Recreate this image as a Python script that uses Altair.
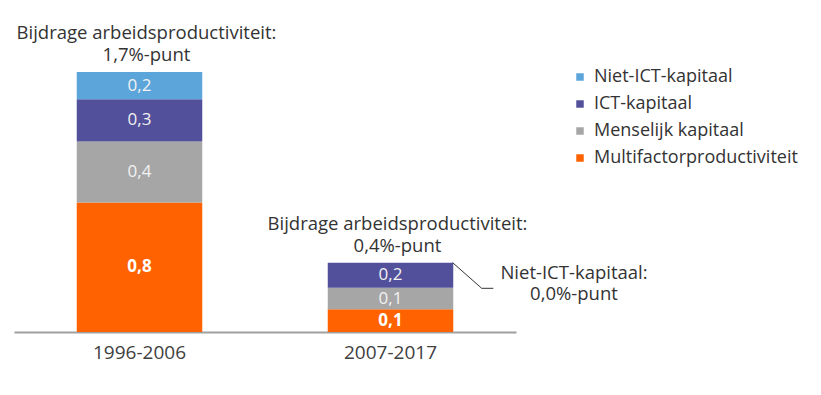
import altair as alt
import pandas as pd

# ---- data ----
periods = ["1996-2006", "2007-2017"]
components = ["Niet-ICT-kapitaal", "ICT-kapitaal", "Menselijk kapitaal", "Multifactorproductiviteit"]
colors = ["#5ca5da", "#52509a", "#a6a6a6", "#ff6200"]
niet_ict = [0.177, 0.0]
ict = [0.277, 0.164]
menselijk = [0.399, 0.141]
mfp = [0.846, 0.148]
reported_totals = [1.7, 0.4]
title_line = "Bijdrage arbeidsproductiviteit:"
note_lines = ["Niet-ICT-kapitaal:", "0,0%-punt"]

FONT = "Open Sans"
TXT = "#333333"
TS = 18.5

series = {
    "Multifactorproductiviteit": mfp,
    "Menselijk kapitaal": menselijk,
    "ICT-kapitaal": ict,
    "Niet-ICT-kapitaal": niet_ict,
}
stack_rank = {c: i for i, c in enumerate(series)}

rows = []
for i, p in enumerate(periods):
    for c, vals in series.items():
        v = vals[i]
        rows.append({
            "period": p,
            "component": c,
            "value": v,
            "rank": stack_rank[c],
            "label": f"{v:.1f}".replace(".", ","),
        })
df = pd.DataFrame(rows)

tot_rows = []
for i, p in enumerate(periods):
    top = sum(vals[i] for vals in series.values())
    tot_rows.append({
        "period": p,
        "top": top,
        "line1": title_line,
        "line2": f"{reported_totals[i]:.1f}".replace(".", ",") + "%-punt",
    })
df_tot = pd.DataFrame(tot_rows)

bar2_top = tot_rows[1]["top"]

W, H = 502, 306
xscale = alt.Scale(domain=periods, paddingInner=0.5, paddingOuter=0.25)
yscale = alt.Scale(domain=[0, 2.0])

base = alt.Chart(df)

bars = base.mark_bar().encode(
    x=alt.X("period:N", scale=xscale, sort=periods,
            axis=alt.Axis(title=None, labelAngle=0, ticks=False, domainColor="#a0a0a0",
                          domainWidth=2, labelFontSize=19, labelColor="#404040",
                          labelPadding=11, labelFont=FONT, grid=False)),
    y=alt.Y("value:Q", stack="zero", scale=yscale, axis=None),
    color=alt.Color("component:N", scale=alt.Scale(domain=components, range=colors),
                    legend=alt.Legend(title=None, orient="none", legendX=557, legendY=42,
                                      symbolType="square", symbolSize=56, symbolStrokeWidth=0,
                                      labelFont=FONT, labelFontSize=18, labelColor=TXT,
                                      labelOffset=5, rowPadding=9, labelLimit=400)),
    order=alt.Order("rank:Q", sort="ascending"),
)

stacked = base.transform_stack(
    stack="value", groupby=["period"], sort=[alt.SortField("rank", order="ascending")],
    as_=["y0", "y1"]
).transform_calculate(mid="(datum.y0 + datum.y1) / 2").transform_filter("datum.value > 0")

labels_reg = stacked.transform_filter("datum.component != 'Multifactorproductiviteit'").mark_text(
    font=FONT, fontSize=17, color="#f2f2f2", baseline="middle"
).encode(
    x=alt.X("period:N", scale=xscale, sort=periods),
    y=alt.Y("mid:Q", scale=yscale, axis=None),
    text="label:N",
)
labels_bold = stacked.transform_filter("datum.component == 'Multifactorproductiviteit'").mark_text(
    font=FONT, fontSize=17, color="#ffffff", fontWeight="bold", baseline="middle"
).encode(
    x=alt.X("period:N", scale=xscale, sort=periods),
    y=alt.Y("mid:Q", scale=yscale, axis=None),
    text="label:N",
)

tbase = alt.Chart(df_tot)
t1 = tbase.mark_text(font=FONT, fontSize=TS, color=TXT, baseline="alphabetic", dy=-33, dx=7).encode(
    x=alt.X("period:N", scale=xscale, sort=periods),
    y=alt.Y("top:Q", scale=yscale, axis=None),
    text="line1:N",
)
t2 = tbase.mark_text(font=FONT, fontSize=TS, color=TXT, baseline="alphabetic", dy=-11, dx=7).encode(
    x=alt.X("period:N", scale=xscale, sort=periods),
    y=alt.Y("top:Q", scale=yscale, axis=None),
    text="line2:N",
)

# callout for the zero Niet-ICT segment of the second bar
lead1 = alt.Chart(pd.DataFrame({"t": [bar2_top]})).mark_rule(color="#333333", strokeWidth=1).encode(
    x=alt.value(438.7), x2=alt.value(467.7),
    y=alt.Y("t:Q", scale=yscale, axis=None), y2=alt.value(262.3),
)
lead2 = alt.Chart(pd.DataFrame({"t": [bar2_top]})).mark_rule(color="#333333", strokeWidth=1).encode(
    x=alt.value(467.7), x2=alt.value(479.3), y=alt.value(262.3),
)
note1 = alt.Chart(pd.DataFrame({"txt": [note_lines[0]]})).mark_text(
    font=FONT, fontSize=TS, color=TXT, baseline="alphabetic", align="center"
).encode(x=alt.value(560), y=alt.value(253), text="txt:N")
note2 = alt.Chart(pd.DataFrame({"txt": [note_lines[1]]})).mark_text(
    font=FONT, fontSize=TS, color=TXT, baseline="alphabetic", align="center"
).encode(x=alt.value(560), y=alt.value(274), text="txt:N")

chart = alt.layer(bars, labels_reg, labels_bold, t1, t2, lead1, lead2, note1, note2).properties(
    width=W, height=H,
    autosize=alt.AutoSizeParams(type="none"),
    padding={"left": 6, "top": 18, "right": 290, "bottom": 50},
).configure(font=FONT).configure_view(stroke=None)

chart.save("out.html", embed_options={"renderer": "svg", "actions": False})
